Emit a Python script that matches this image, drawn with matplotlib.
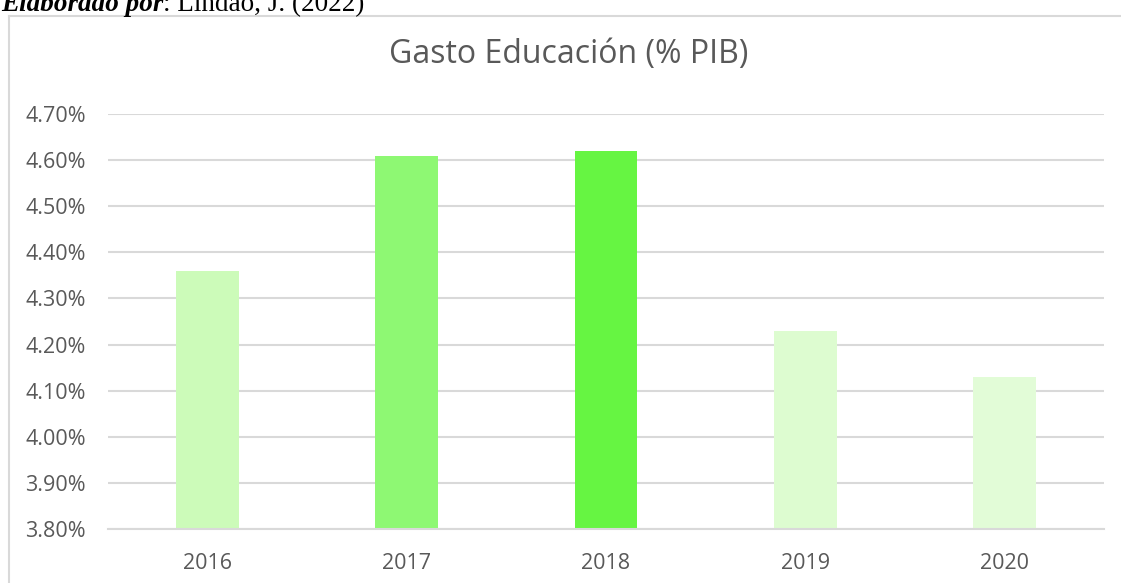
import matplotlib
matplotlib.use("Agg")
import matplotlib.pyplot as plt
from matplotlib.lines import Line2D
from matplotlib.ticker import FuncFormatter

years = ["2016", "2017", "2018", "2019", "2020"]
gasto = [4.36, 4.61, 4.62, 4.23, 4.13]
colors = ["#CCFBB9", "#8EF873", "#66F542", "#DDFCD0", "#E2FCD7"]
title = "Gasto Educación (% PIB)"
yticks = [3.80, 3.90, 4.00, 4.10, 4.20, 4.30, 4.40, 4.50, 4.60, 4.70]

W, H = 1121, 583
fig = plt.figure(figsize=(W / 100, H / 100), dpi=100)
fig.patch.set_facecolor("white")

ax = fig.add_axes([108 / W, 1 - 529 / H, (1104 - 108) / W, (529 - 114) / H])
ax.set_facecolor("white")

x = range(len(years))
ax.bar(x, gasto, width=0.316, color=colors, zorder=3)
ax.set_xlim(-0.5, len(years) - 0.5)
ax.set_ylim(3.80, 4.70)
ax.set_yticks(yticks)
ax.yaxis.set_major_formatter(FuncFormatter(lambda v, p: f"{v:.2f}%"))
ax.set_xticks(list(x))
ax.set_xticklabels(years)

ax.grid(axis="y", color="#D9D9D9", linewidth=1.5, zorder=0)
for s in ["top", "right", "left"]:
    ax.spines[s].set_visible(False)
ax.spines["bottom"].set_color("#D9D9D9")
ax.spines["bottom"].set_linewidth(1.5)
ax.spines["bottom"].set_zorder(4)
ax.tick_params(axis="both", length=0, colors="#595959", labelsize=15.5)
ax.tick_params(axis="y", pad=16)
ax.tick_params(axis="x", pad=17)
for lab in ax.get_xticklabels() + ax.get_yticklabels():
    lab.set_fontfamily("Open Sans")

fig.text(569 / W, 1 - 55 / H, title, ha="center", va="center",
         fontsize=23, color="#595959", family="Open Sans")

# chart area border
fig.add_artist(Line2D([9 / W, 9 / W], [1 - 16 / H, 0], color="#D9D9D9", linewidth=1.5))
fig.add_artist(Line2D([9 / W, 1], [1 - 16 / H, 1 - 16 / H], color="#D9D9D9", linewidth=1.5))

# header caption (partially cut at top)
t1 = fig.text(1 / W, 1 - 11 / H, "Elaborado por", ha="left", va="baseline",
              fontsize=19.5, family="Liberation Serif", fontweight="bold",
              fontstyle="italic", color="black")
fig.canvas.draw()
r = fig.canvas.get_renderer()
bb = t1.get_window_extent(renderer=r)
fig.text(bb.x1 / W, 1 - 11 / H, ": Lindao, J. (2022)", ha="left", va="baseline",
         fontsize=19.5, family="Liberation Serif", color="black")

fig.savefig("out.png", dpi=100, facecolor="white")
